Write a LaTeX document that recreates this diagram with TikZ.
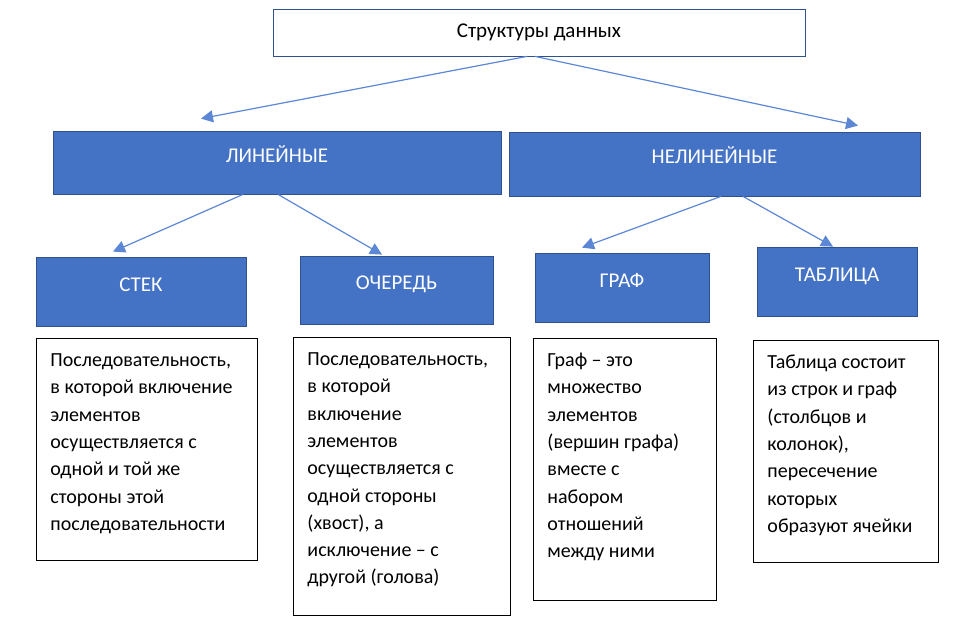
\documentclass[tikz,border=0pt]{standalone}
\usepackage{fontspec}
\setmainfont{Carlito}
\usetikzlibrary{arrows.meta}
\definecolor{boxblue}{HTML}{4472C4}
\definecolor{boxline}{HTML}{2F528F}
\definecolor{arrowblue}{HTML}{5B87D4}
\newcommand{\boxtext}[3]{\parbox[c][#2][t]{#1}{\raggedright\strut#3}}
\tikzset{
  headbox/.style={rectangle,draw=boxline,fill=white,line width=0.8pt,font=\fontsize{21}{25}\selectfont},
  catbox/.style={rectangle,draw=boxline,fill=boxblue,text=white,line width=0.8pt,text height=14pt,text depth=15pt,font=\fontsize{21}{25}\selectfont},
  descbox/.style={rectangle,draw=black,line width=0.9pt,anchor=north west,inner xsep=14pt,inner ysep=9pt,font=\fontsize{20}{27.3}\selectfont},
  link/.style={draw=arrowblue,line width=1.2pt,-{Triangle[length=12pt,width=12pt]}}
}
\begin{document}
\begin{tikzpicture}[x=1pt,y=-1pt]
\useasboundingbox (0,0) rectangle (976,625);
\node[headbox,minimum width=532,minimum height=47] (data) at (539,32.5) {Структуры данных};
\node[catbox,minimum width=448,minimum height=63] (lin) at (277,162.5) {ЛИНЕЙНЫЕ};
\node[catbox,minimum width=411,minimum height=64] (nonlin) at (714.5,164) {НЕЛИНЕЙНЫЕ};
\node[catbox,minimum width=210,minimum height=69] (stack) at (141,291.5) {СТЕК};
\node[catbox,minimum width=193,minimum height=68] (queue) at (396.5,290) {ОЧЕРЕДЬ};
\node[catbox,minimum width=174,minimum height=69] (graph) at (622,287.5) {ГРАФ};
\node[catbox,minimum width=160,minimum height=69] (table) at (837,281.5) {ТАБЛИЦА};

\node[descbox] (dstack) at (36,338) {\boxtext{193pt}{204pt}{Последовательность,\\в которой включение\\элементов\\осуществляется с\\одной и той же\\стороны этой\\последовательности}};
\node[descbox] (dqueue) at (293,337) {\boxtext{189pt}{260pt}{Последовательность,\\в которой\\включение\\элементов\\осуществляется с\\одной стороны\\(хвост), а\\исключение – с\\другой (голова)}};
\node[descbox] (dgraph) at (533,338) {\boxtext{155pt}{244pt}{Граф – это\\множество\\элементов\\(вершин графа)\\вместе с\\набором\\отношений\\между ними}};
\node[descbox] (dtable) at (753,340) {\boxtext{157pt}{204pt}{Таблица состоит\\из строк и граф\\(столбцов и\\колонок),\\пересечение\\которых\\образуют ячейки}};

\draw[link] ([xshift=-12pt]data.south) -- ([xshift=-76pt,yshift=12pt]lin.north);
\draw[link] ([xshift=-4pt]data.south) -- ([xshift=143.5pt,yshift=6pt]nonlin.north);
\draw[link] ([xshift=-34pt]lin.south) -- ([xshift=-28pt,yshift=5pt]stack.north);
\draw[link] ([xshift=1pt]lin.south) -- ([xshift=-14.5pt,yshift=1pt]queue.north);
\draw[link] ([xshift=6.5pt]nonlin.south) -- ([xshift=-40pt,yshift=5pt]graph.north);
\draw[link] ([xshift=28.5pt]nonlin.south) -- ([xshift=-4pt]table.north);
\end{tikzpicture}
\end{document}
